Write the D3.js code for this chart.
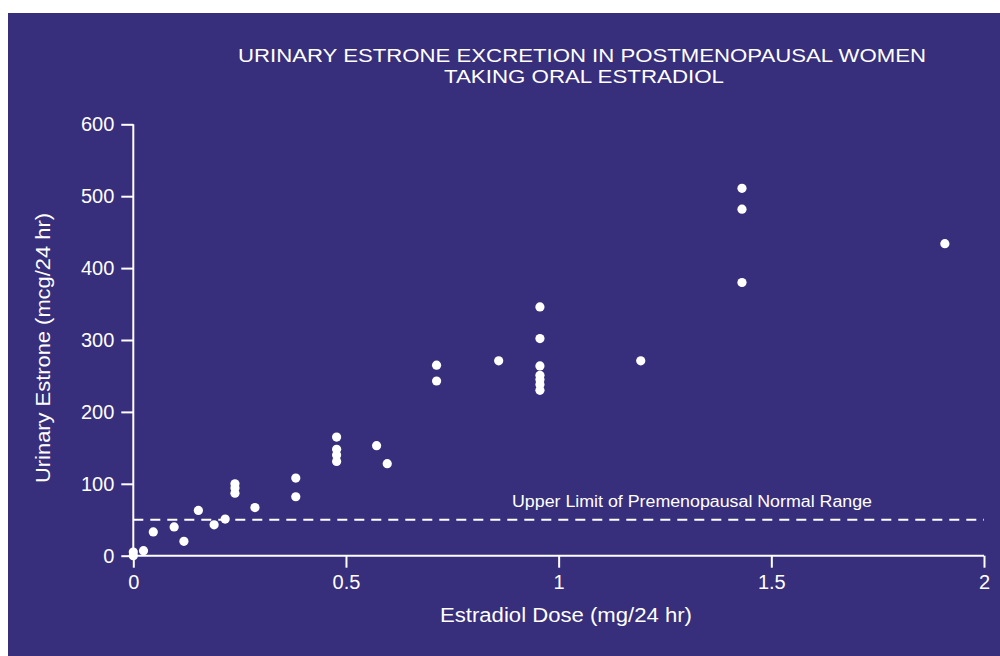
<!DOCTYPE html>
<html>
<head>
<meta charset="utf-8">
<script src="https://cdn.jsdelivr.net/npm/d3@7"></script>
<style>
  html, body { margin: 0; padding: 0; background: #ffffff; }
  svg { display: block; }
  text { font-family: "Liberation Sans", Arial, Helvetica, sans-serif; fill: #ffffff; }
</style>
</head>
<body>
<svg id="chart" width="1000" height="656"></svg>
<script>
// ---- data ----
const titleLines = ["URINARY ESTRONE EXCRETION IN POSTMENOPAUSAL WOMEN", "TAKING ORAL ESTRADIOL"];
const xLabel = "Estradiol Dose (mg/24 hr)";
const yLabel = "Urinary Estrone (mcg/24 hr)";
const refLabel = "Upper Limit of Premenopausal Normal Range";
const refValue = 50;
const xTicks = [0, 0.5, 1, 1.5, 2];
const yTicks = [0, 100, 200, 300, 400, 500, 600];
const doses = [0, 0, 0.024, 0.047, 0.096, 0.119, 0.153, 0.19, 0.216,
  0.239, 0.239, 0.239, 0.286, 0.382, 0.382,
  0.478, 0.478, 0.478, 0.478, 0.572, 0.597, 0.713, 0.713, 0.859,
  0.956, 0.956, 0.956, 0.956, 0.956, 0.956, 0.956,
  1.193, 1.431, 1.431, 1.431, 1.908];
const estrone = [5, 0, 7, 33, 40, 20, 63, 43, 51,
  100, 94, 87, 67, 108, 82,
  165, 148, 140, 131, 153, 128, 265, 243, 271,
  346, 302, 264, 251, 245, 238, 230,
  271, 511, 482, 380, 434];

// ---- drawing ----
const svg = d3.select("#chart");
const BG = "#372e7c";
svg.append("rect").attr("x", 8).attr("y", 13).attr("width", 992).attr("height", 643).attr("fill", BG);

const x = d3.scaleLinear().domain([0, 2]).range([133.3, 984]);
const y = d3.scaleLinear().domain([0, 600]).range([555.7, 124.3]);

// title
svg.append("text").attr("x", 582).attr("y", 62).attr("text-anchor", "middle")
  .style("font-size", "19px").attr("textLength", 688).attr("lengthAdjust", "spacingAndGlyphs")
  .text(titleLines[0]);
svg.append("text").attr("x", 584).attr("y", 83).attr("text-anchor", "middle")
  .style("font-size", "19px").attr("textLength", 280).attr("lengthAdjust", "spacingAndGlyphs")
  .text(titleLines[1]);

// axes
const xAxis = d3.axisBottom(x).tickValues(xTicks).tickSize(12).tickPadding(7)
  .tickFormat(d => String(d));
const yAxis = d3.axisLeft(y).tickValues(yTicks).tickSize(12).tickPadding(7)
  .tickFormat(d => String(d));

const gx = svg.append("g").attr("transform", `translate(0,${y(0)})`).call(xAxis);
const gy = svg.append("g").attr("transform", `translate(${x(0)},0)`).call(yAxis);
[gx, gy].forEach(g => {
  g.select(".domain").attr("stroke", "#fff").attr("stroke-width", 2)
    .attr("d", g === gx ? `M${x(0)},0H${x(2)}` : `M0,${y(600)}V${y(0)}`);
  g.selectAll(".tick line").attr("stroke", "#fff").attr("stroke-width", 2);
  g.selectAll(".tick text").attr("fill", "#fff").style("font-size", "20px")
    .style("font-family", '"Liberation Sans", Arial, sans-serif');
});

// axis titles
svg.append("text").attr("x", 566).attr("y", 622).attr("text-anchor", "middle")
  .style("font-size", "20px").attr("textLength", 252).attr("lengthAdjust", "spacingAndGlyphs")
  .text(xLabel);
svg.append("text").attr("transform", `translate(50,${(y(0) + y(600)) / 2 + 8}) rotate(-90)`)
  .attr("text-anchor", "middle").style("font-size", "20px")
  .attr("textLength", 270).attr("lengthAdjust", "spacingAndGlyphs").text(yLabel);

// reference line
svg.append("line").attr("x1", x(0)).attr("x2", x(2)).attr("y1", y(refValue)).attr("y2", y(refValue))
  .attr("stroke", "#fff").attr("stroke-width", 2).attr("stroke-dasharray", "10,7");
svg.append("text").attr("x", 692).attr("y", 507).attr("text-anchor", "middle")
  .style("font-size", "16px").attr("textLength", 360).attr("lengthAdjust", "spacingAndGlyphs")
  .text(refLabel);

// points
const pts = doses.map((d, i) => ({ dose: d, val: estrone[i] }));
svg.append("g").selectAll("circle").data(pts).join("circle")
  .attr("cx", d => x(d.dose)).attr("cy", d => y(d.val)).attr("r", 4.6).attr("fill", "#fff");
</script>
</body>
</html>
